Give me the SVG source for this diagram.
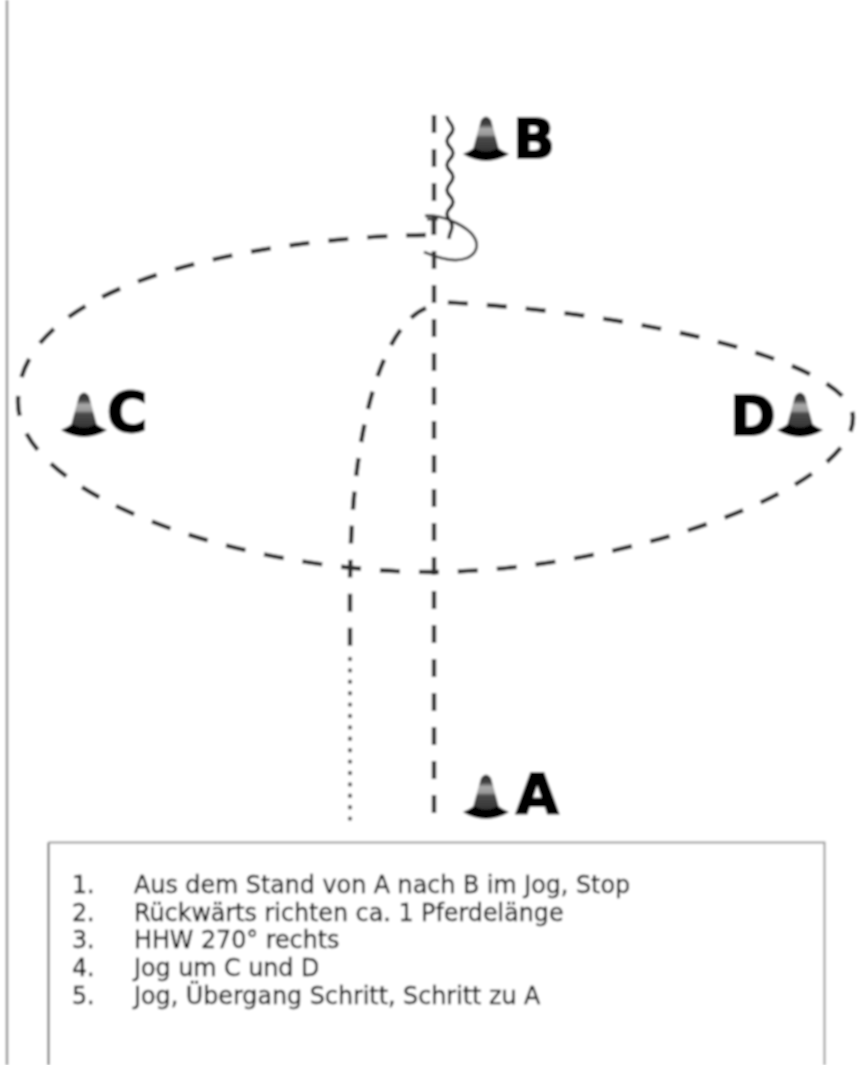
<svg xmlns="http://www.w3.org/2000/svg" width="862" height="1065" viewBox="0 0 862 1065">
<style>
.dash{fill:none;stroke:#2c2c2c;stroke-width:4.4;stroke-dasharray:18 16}
.loop{stroke-dasharray:20 19}
.thin{fill:none;stroke:#333;stroke-width:2.8}
.lab{font-family:"DejaVu Sans",sans-serif;font-weight:700;font-size:55px;fill:#000;stroke:#000;stroke-width:2}
.txt{font-family:"DejaVu Sans",sans-serif;font-size:25px;fill:#000;stroke:#000;stroke-width:.35}
</style>
<defs>
<filter id="soft" x="-5%" y="-5%" width="110%" height="110%"><feGaussianBlur stdDeviation="0.8"/></filter>
<linearGradient id="coneFill" x1="0" y1="0" x2="0" y2="1">
<stop offset="0" stop-color="#2a2a2a"/><stop offset=".22" stop-color="#444"/><stop offset=".34" stop-color="#aaa"/><stop offset=".5" stop-color="#999"/><stop offset=".58" stop-color="#4a4a4a"/><stop offset="1" stop-color="#333"/>
</linearGradient>
<g id="cone">
<path d="M-14 -8 L-5 -41 Q0 -48 5 -41 L14 -8Z" fill="url(#coneFill)"/>
<path d="M-23 -7 Q-16 -10 -12 -13 Q0 -6 12 -13 Q16 -10 23 -7 Q14 -1 0 0 Q-14 -1 -23 -7Z" fill="#000"/>
</g>
</defs>
<g filter="url(#soft)">
<rect width="862" height="1065" fill="#fff"/>
<path d="M7 0V1065" stroke="#999" stroke-width="2.6" fill="none"/>
<g id="connectors">
<path class="dash" d="M434 115V815"/>
<path class="dash loop" d="M426 235C300 236 18 270 18 402C18 495 240 572 430 572C620 572 853 490 853 418C853 362 640 312 440 302"/>
<path class="dash" d="M426 308C385 325 350 420 350 590V648"/>
<path d="M350 659V822" fill="none" stroke="#555" stroke-width="4.400" stroke-linecap="round" stroke-dasharray="0 11.4"/>
<path class="thin" style="stroke:#111;stroke-width:3.4" d="M447 116C447 122 453 123 453 129S447 135 447 141S453 147 453 153S447 159 447 165S453 171 453 177S447 184 447 190S453 196 453 202S447 208 447 214S452 220 452 226S449 232 449 239"/>
<path class="thin" d="M425 216C440 214 462 224 471 233C480 243 478 253 467 258C455 263 438 258 424 252"/>
<path class="thin" d="M433 219V235M427 219H438"/>
</g>
<g id="node-b"><use href="#cone" x="486" y="161"/><text class="lab" x="513" y="158">B</text></g>
<g id="node-c"><use href="#cone" x="84" y="437"/><text class="lab" x="107" y="431">C</text></g>
<g id="node-d"><use href="#cone" x="800" y="437"/><text class="lab" x="730" y="435">D</text></g>
<g id="node-a"><use href="#cone" x="486" y="819"/><text class="lab" x="516" y="813">A</text></g>
<g id="legend">
<path d="M48.500 1065V842.500" fill="none" stroke="#666" stroke-width="2"/>
<path d="M48.500 842.500H824.500V1065" fill="none" stroke="#999" stroke-width="2"/>
<g class="txt" transform="scale(.952 1)">
<text x="75.600" y="893">1.</text><text x="140.800" y="893">Aus dem Stand von A nach B im Jog, Stop</text>
<text x="75.600" y="921">2.</text><text x="140.800" y="921">Rückwärts richten ca. 1 Pferdelänge</text>
<text x="75.600" y="948">3.</text><text x="140.800" y="948">HHW 270° rechts</text>
<text x="75.600" y="976">4.</text><text x="140.800" y="976">Jog um C und D</text>
<text x="75.600" y="1004">5.</text><text x="140.800" y="1004">Jog, Übergang Schritt, Schritt zu A</text>
</g>
</g>
</g>
</svg>
